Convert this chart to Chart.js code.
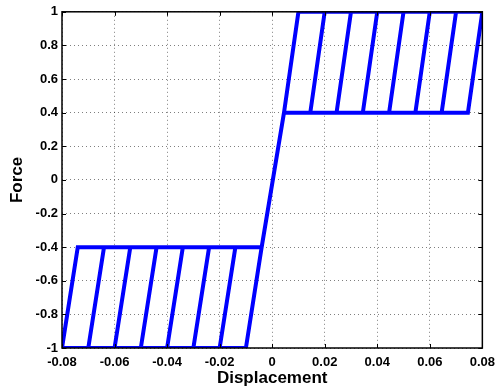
<!DOCTYPE html>
<html>
<head>
<meta charset="utf-8">
<script src="https://cdn.jsdelivr.net/npm/chart.js"></script>
<style>
  html, body { margin: 0; padding: 0; background: #fff; }
  #wrap { width: 502px; height: 390px; position: relative; }
</style>
</head>
<body>
<div id="wrap"><canvas id="c"></canvas></div>
<script>
// Force levels bounding the two hysteresis bands
const forceLevels = [-1, -0.4, 0.4, 1];

// Lower band: displacement where each branch meets force -1 and force -0.4
const lowerBaseDisp  = [-0.08, -0.07, -0.06, -0.05, -0.04, -0.03, -0.02, -0.01];
const lowerYieldDisp = [-0.074, -0.064, -0.054, -0.044, -0.034, -0.024, -0.014, -0.004];

// Upper band: displacement where each branch meets force 0.4 and force 1
const upperYieldDisp = [0.0045, 0.0145, 0.0245, 0.0345, 0.0445, 0.0545, 0.0645, 0.0745];
const upperPeakDisp  = [0.01, 0.02, 0.03, 0.04, 0.05, 0.06, 0.07, 0.08];

// Axis ticks
const xTickValues = [-0.08, -0.06, -0.04, -0.02, 0, 0.02, 0.04, 0.06, 0.08];
const xTickLabels = ['-0.08', '-0.06', '-0.04', '-0.02', '0', '0.02', '0.04', '0.06', '0.08'];
const yTickValues = [-1, -0.8, -0.6, -0.4, -0.2, 0, 0.2, 0.4, 0.6, 0.8, 1];
const yTickLabels = ['-1', '-0.8', '-0.6', '-0.4', '-0.2', '0', '0.2', '0.4', '0.6', '0.8', '1'];

// Build the path: outer outline of both bands joined by the elastic branch,
// then the interior branches as separate strokes.
const [fMin, fLow, fHigh, fMax] = forceLevels;
const n = lowerBaseDisp.length;
const gap = { x: null, y: null };
const pts = [];
pts.push({ x: lowerBaseDisp[0], y: fMin });
pts.push({ x: lowerYieldDisp[0], y: fLow });
pts.push({ x: lowerYieldDisp[n - 1], y: fLow });
pts.push({ x: upperYieldDisp[0], y: fHigh });
pts.push({ x: upperYieldDisp[n - 1], y: fHigh });
pts.push({ x: upperPeakDisp[n - 1], y: fMax });
pts.push({ x: upperPeakDisp[0], y: fMax });
pts.push({ x: upperYieldDisp[0], y: fHigh });
pts.push({ x: lowerYieldDisp[n - 1], y: fLow });
pts.push({ x: lowerBaseDisp[n - 1], y: fMin });
pts.push({ x: lowerBaseDisp[0], y: fMin });
for (let k = 1; k < n - 1; k++) {
  pts.push(gap);
  pts.push({ x: lowerBaseDisp[k], y: fMin });
  pts.push({ x: lowerYieldDisp[k], y: fLow });
}
for (let k = 1; k < n - 1; k++) {
  pts.push(gap);
  pts.push({ x: upperYieldDisp[k], y: fHigh });
  pts.push({ x: upperPeakDisp[k], y: fMax });
}

// Box around the plot area with inward tick marks on all four sides
const framePlugin = {
  id: 'frame',
  afterDraw(chart) {
    const { ctx, chartArea: a, scales } = chart;
    const len = 4;
    ctx.save();
    ctx.strokeStyle = '#000';
    ctx.lineWidth = 1;
    ctx.beginPath();
    xTickValues.forEach(v => {
      const px = Math.round(scales.x.getPixelForValue(v)) + 0.5;
      ctx.moveTo(px, a.bottom); ctx.lineTo(px, a.bottom - len);
      ctx.moveTo(px, a.top); ctx.lineTo(px, a.top + len);
    });
    yTickValues.forEach(v => {
      const py = Math.round(scales.y.getPixelForValue(v)) + 0.5;
      ctx.moveTo(a.left, py); ctx.lineTo(a.left + len, py);
      ctx.moveTo(a.right, py); ctx.lineTo(a.right - len, py);
    });
    ctx.stroke();
    ctx.lineWidth = 1.5;
    ctx.strokeRect(a.left, a.top, a.right - a.left, a.bottom - a.top);
    ctx.restore();
  }
};

const tickFont = { family: "'Liberation Sans', Arial, sans-serif", weight: 'bold', size: 13 };
const titleFont = { family: "'Liberation Sans', Arial, sans-serif", weight: 'bold', size: 17 };
const gridOpts = { color: 'rgba(0,0,0,0.5)', lineWidth: 1, drawTicks: false };
const borderOpts = { display: false, dash: [1, 3] };

new Chart(document.getElementById('c'), {
  type: 'scatter',
  data: {
    datasets: [{
      data: pts,
      showLine: true,
      spanGaps: false,
      borderColor: '#0000ff',
      borderWidth: 4,
      borderJoinStyle: 'miter',
      borderCapStyle: 'butt',
      pointRadius: 0,
      pointHoverRadius: 0,
      clip: 0
    }]
  },
  options: {
    responsive: true,
    maintainAspectRatio: false,
    animation: false,
    events: [],
    layout: { padding: { top: 11, right: 13, left: 0, bottom: 0 } },
    plugins: { legend: { display: false }, tooltip: { enabled: false } },
    scales: {
      x: {
        type: 'linear',
        position: 'bottom',
        min: -0.08,
        max: 0.08,
        afterBuildTicks: s => { s.ticks = xTickValues.map(v => ({ value: v })); },
        afterFit: s => { s.height = 42; },
        ticks: {
          font: tickFont, color: '#000', padding: 7, maxRotation: 0, autoSkip: false,
          callback: (v, i) => xTickLabels[i]
        },
        grid: gridOpts,
        border: borderOpts,
        title: { display: true, text: 'Displacement', font: titleFont, color: '#000', padding: { top: 0, bottom: 1 } }
      },
      y: {
        type: 'linear',
        position: 'left',
        min: -1,
        max: 1,
        afterBuildTicks: s => { s.ticks = yTickValues.map(v => ({ value: v })); },
        afterFit: s => { s.width = 62; },
        ticks: {
          font: tickFont, color: '#000', padding: 4, autoSkip: false,
          callback: (v, i) => yTickLabels[i]
        },
        grid: gridOpts,
        border: borderOpts,
        title: { display: true, text: 'Force', font: titleFont, color: '#000', padding: { top: 7, bottom: 0 } }
      }
    }
  },
  plugins: [framePlugin]
});
</script>
</body>
</html>
